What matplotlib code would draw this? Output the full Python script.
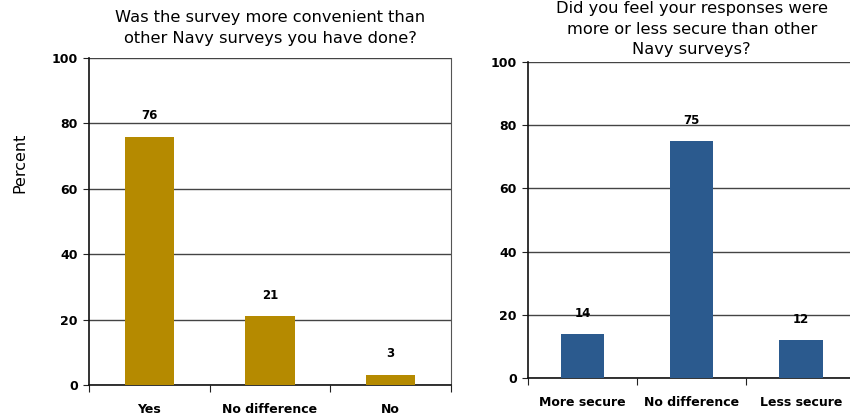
import numpy as np
import matplotlib
matplotlib.use("Agg")
import matplotlib.pyplot as plt

# データ
left_title = "Was the survey more convenient than\nother Navy surveys you have done?"
left_cats = ["Yes", "No difference", "No"]
left_vals = [76, 21, 3]

right_title = "Did you feel your responses were\nmore or less secure than other\nNavy surveys?"
right_cats = ["More secure", "No difference", "Less secure"]
right_vals = [14, 75, 12]

y_ticks = [0, 20, 40, 60, 80, 100]

GOLD = "#B58A00"
BLUE = "#2B5A8E"

plt.rcParams['font.family'] = ['DejaVu Sans']


def draw(ax, cats, vals, color, title, width, title_pad):
    x = np.arange(len(cats))
    ax.bar(x, vals, width=width, color=color, zorder=3)
    ax.set_xlim(-0.5, len(cats) - 0.5)
    ax.set_ylim(0, 100)
    ax.set_yticks(y_ticks)
    ax.set_yticklabels([str(t) for t in y_ticks], fontsize=9, fontweight='bold')
    ax.grid(axis='y', color='#444444', linewidth=1.0, zorder=1)
    # カテゴリ境界に目盛り、ラベルは中央
    ax.set_xticks(np.arange(len(cats) + 1) - 0.5)
    ax.set_xticklabels([])
    ax.set_xticks(x, minor=True)
    ax.set_xticklabels(cats, minor=True, fontsize=9, fontweight='bold')
    ax.tick_params(axis='x', which='major', length=5, direction='out', color='#222222')
    ax.tick_params(axis='x', which='minor', length=0, pad=13)
    ax.tick_params(axis='y', length=4, direction='out', pad=4, color='#222222')
    for s in ['left', 'bottom']:
        ax.spines[s].set_color('#111111')
        ax.spines[s].set_linewidth(1.2)
    ax.spines['top'].set_visible(False)
    ax.spines['right'].set_color('#555555')
    for xi, v in zip(x, vals):
        ax.text(xi, v + 6.5, str(v), ha='center', va='center', fontsize=8.5, fontweight='bold')
    ax.set_title(title, fontsize=11.7, linespacing=1.45, pad=title_pad)


fig = plt.figure(figsize=(8.5, 4.16), dpi=100)
ax1 = fig.add_axes([0.1047, 0.0745, 0.426, 0.786])
ax2 = fig.add_axes([0.6212, 0.0913, 0.385, 0.760])

draw(ax1, left_cats, left_vals, GOLD, left_title, 0.41, 11)
draw(ax2, right_cats, right_vals, BLUE, right_title, 0.40, 5.5)
fig.text(20 / 850, 1 - 163 / 416, "Percent", fontsize=11.5, rotation=90,
         ha='center', va='center')

fig.savefig("out.png", dpi=100)
